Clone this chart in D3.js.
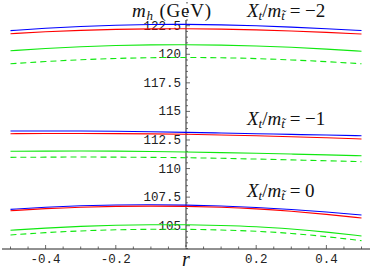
<!DOCTYPE html>
<html><head><meta charset="utf-8">
<script src="https://cdn.jsdelivr.net/npm/d3@7"></script>
<style>html,body{margin:0;padding:0;background:#fff;}svg{display:block;}</style>
</head><body>
<svg id="c" width="372" height="279"></svg>
<script>
const rValues = [-0.5,-0.4,-0.3,-0.2,-0.1,0,0.1,0.2,0.3,0.4,0.5];
// Xt/mt = -2
const blueM2  = [122.07,122.28,122.44,122.55,122.61,122.62,122.58,122.50,122.38,122.24,122.08];
const redM2   = [121.80,121.98,122.10,122.19,122.23,122.24,122.21,122.14,122.04,121.92,121.77];
const greenM2 = [120.31,120.52,120.67,120.78,120.83,120.84,120.81,120.73,120.62,120.46,120.26];
const dashM2  = [119.17,119.37,119.53,119.64,119.71,119.73,119.70,119.63,119.51,119.36,119.17];
// Xt/mt = -1
const blueM1  = [113.28,113.29,113.29,113.27,113.23,113.17,113.11,113.05,112.99,112.93,112.87];
const redM1   = [113.05,113.07,113.07,113.06,113.04,113.00,112.94,112.87,112.79,112.69,112.59];
const greenM1 = [111.51,111.53,111.54,111.53,111.50,111.45,111.40,111.34,111.27,111.20,111.12];
const dashM1  = [110.98,111.00,111.01,111.00,110.98,110.95,110.90,110.83,110.76,110.68,110.60];
// Xt/mt = 0
const blue0  = [106.43,106.62,106.75,106.82,106.84,106.81,106.73,106.60,106.42,106.20,105.94];
const red0   = [106.31,106.50,106.63,106.70,106.72,106.70,106.62,106.49,106.27,106.00,105.67];
const green0 = [104.60,104.80,104.95,105.05,105.09,105.09,105.03,104.93,104.72,104.45,104.10];
const dash0  = [104.19,104.40,104.55,104.65,104.69,104.69,104.63,104.52,104.34,104.05,103.69];

const xMajor = [-0.4,-0.2,0.2,0.4];
const xMajorLabels = ["-0.4","-0.2","0.2","0.4"];
const yMajor = [105,107.5,110,112.5,115,117.5,120,122.5];
const yMajorLabels = ["105","107.5","110","112.5","115","117.5","120","122.5"];
const groupLabels = ["−2","−1","0"];
const groupLabelY = [123.28, 113.84, 107.54];

const svg = d3.select("#c");
const x = d3.scaleLinear().domain([-0.5,0.5]).range([10.5,361.5]);
const y = d3.scaleLinear().domain([105,122.5]).range([225.7,25.7]);
const axisY = 249;
const ax0 = x(0);
const monoFont = "'Liberation Mono','Courier New',Courier,monospace";
const serifFont = "'Liberation Serif','Times New Roman',Times,serif";

const series = [
  [blueM2,"#0000ff",null],[redM2,"#ff0000",null],[greenM2,"#10e810",null],[dashM2,"#10e810","6,4"],
  [blueM1,"#0000ff",null],[redM1,"#ff0000",null],[greenM1,"#10e810",null],[dashM1,"#10e810","6,4"],
  [blue0,"#0000ff",null],[red0,"#ff0000",null],[green0,"#10e810",null],[dash0,"#10e810","6,4"]
];
const line = d3.line().x((d,i)=>x(rValues[i])).y(d=>y(d)).curve(d3.curveBasis);

// axes
const g = svg.append("g");
g.append("line").attr("x1",2).attr("x2",370).attr("y1",axisY).attr("y2",axisY).attr("stroke","#222").attr("stroke-width",1);
g.append("line").attr("x1",ax0).attr("x2",ax0).attr("y1",20).attr("y2",247).attr("stroke","#222").attr("stroke-width",1);

// x ticks
const xTicks = d3.range(-10,11).map(i=>i*0.05);
xTicks.forEach(t=>{
  const major = Math.abs(Math.round(t*10)%2)===0 && Math.abs(t*10-Math.round(t*10))<1e-6;
  g.append("line").attr("x1",x(t)).attr("x2",x(t)).attr("y1",axisY).attr("y2",axisY-(major?4:2.5)).attr("stroke","#444").attr("stroke-width",0.8);
});
xMajor.forEach((t,i)=>{
  g.append("text").attr("x",x(t)).attr("y",263).attr("text-anchor","middle")
   .attr("font-family",monoFont).attr("font-size",12.5).attr("fill","#222").text(xMajorLabels[i]);
});
// y ticks
d3.range(103,124.6,0.5).forEach(v=>{
  const major = Math.abs(v/2.5-Math.round(v/2.5))<1e-6;
  g.append("line").attr("x1",ax0).attr("x2",ax0+(major?4:2)).attr("y1",y(v)).attr("y2",y(v)).attr("stroke","#444").attr("stroke-width",0.8);
});
yMajor.forEach((v,i)=>{
  g.append("text").attr("x",ax0-5).attr("y",y(v)+4).attr("text-anchor","end")
   .attr("font-family",monoFont).attr("font-size",12.5).attr("fill","#222").text(yMajorLabels[i]);
});

// curves
series.forEach(([data,col,dash])=>{
  svg.append("path").attr("d",line(data)).attr("fill","none").attr("stroke",col).attr("stroke-width",1.1)
    .attr("stroke-dasharray",dash);
});

// axis titles
const t1 = svg.append("text").attr("x",132).attr("y",17).attr("font-family",serifFont).attr("font-size",19)
  .attr("letter-spacing",0.8).attr("fill","#111");
t1.append("tspan").attr("font-style","italic").text("m");
t1.append("tspan").attr("font-style","italic").attr("font-size",13).attr("dy",3).text("h");
t1.append("tspan").attr("dy",-3).text(" (GeV)");

svg.append("text").attr("x",ax0).attr("y",266).attr("text-anchor","middle").attr("font-family",serifFont)
  .attr("font-style","italic").attr("font-size",20).attr("fill","#111").text("r");

groupLabels.forEach((lab,i)=>{
  const t = svg.append("text").attr("x",247).attr("y",y(groupLabelY[i])).attr("font-family",serifFont).attr("font-size",19).attr("fill","#111");
  t.append("tspan").attr("font-style","italic").text("X");
  t.append("tspan").attr("font-style","italic").attr("font-size",13).attr("dy",3).text("t");
  t.append("tspan").attr("dy",-3).text("/");
  t.append("tspan").attr("font-style","italic").text("m");
  t.append("tspan").attr("font-style","italic").attr("font-size",13).attr("dy",3).text("t\u0303");
  t.append("tspan").attr("dy",-3).text(" = " + lab);
});
</script>
</body></html>
